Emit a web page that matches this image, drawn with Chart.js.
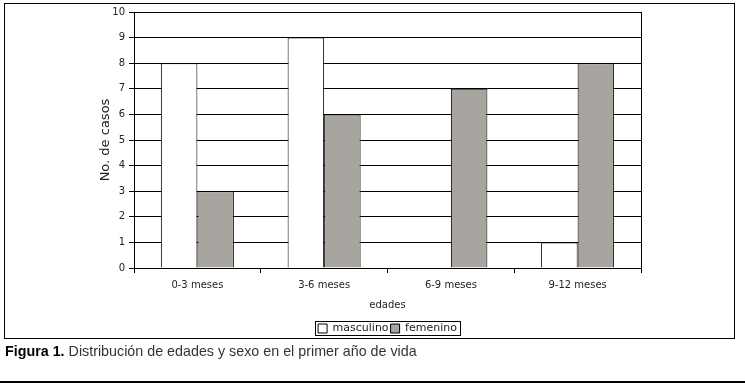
<!DOCTYPE html>
<html>
<head>
<meta charset="utf-8">
<script src="https://cdn.jsdelivr.net/npm/chart.js@4"></script>
<style>
  body { margin: 0; background: #fff; width: 745px; height: 388px; position: relative; overflow: hidden; }
  #marco { position: absolute; left: 4px; top: 3px; width: 731px; height: 336px; border: 1px solid #000; box-sizing: border-box; }
  #marco canvas { display: block; position: absolute; left: 0; top: -2px; }
  #pie { position: absolute; left: 5px; top: 343px; font-family: "Liberation Sans", Arial, sans-serif; font-size: 14.3px; color: #333; white-space: nowrap; }
  #pie b { color: #000; }
  #linea { position: absolute; left: 0; top: 381px; width: 745px; height: 2px; background: #000; }
</style>
</head>
<body>
<div id="marco"><canvas id="grafica" width="729" height="342"></canvas></div>
<div id="pie"><b>Figura 1.</b> Distribución de edades y sexo en el primer año de vida</div>
<div id="linea"></div>

<script>
const edades = ["0-3 meses", "3-6 meses", "6-9 meses", "9-12 meses"];
const masculino = [8, 9, 0, 1];
const femenino = [3, 6, 7, 8];

// marco del area de trazado y de la leyenda
const bordes = {
  id: "bordes",
  afterDraw(chart) {
    const ctx = chart.ctx;
    const a = chart.chartArea;
    ctx.save();
    ctx.strokeStyle = "#000";
    ctx.lineWidth = 1;
    ctx.beginPath();
    ctx.moveTo(Math.round(a.right) + 0.5, a.top);
    ctx.lineTo(Math.round(a.right) + 0.5, a.bottom);
    ctx.stroke();
    const cajas = chart.legend.legendHitBoxes;
    if (cajas && cajas.length) {
      const x0 = Math.min(...cajas.map(c => c.left)) - 3;
      const x1 = Math.max(...cajas.map(c => c.left + c.width)) + 3;
      const y0 = Math.min(...cajas.map(c => c.top)) - 2;
      const y1 = Math.max(...cajas.map(c => c.top + c.height)) + 1;
      ctx.strokeRect(Math.round(x0) + 0.5, Math.round(y0) + 0.5, Math.round(x1 - x0), Math.round(y1 - y0));
    }
    ctx.restore();
  }
};

const fuente = { family: "'DejaVu Sans', Verdana, sans-serif", size: 10 };

new Chart(document.getElementById("grafica"), {
  type: "bar",
  data: {
    labels: edades,
    datasets: [
      { label: "masculino", data: masculino, backgroundColor: "#ffffff", borderColor: "#000", borderWidth: 1 },
      { label: "femenino", data: femenino, backgroundColor: "#a8a5a0", borderColor: "#000", borderWidth: 1 }
    ]
  },
  options: {
    responsive: false,
    animation: false,
    layout: { padding: { left: 0, right: 93, top: 6, bottom: 0 } },
    datasets: { bar: { categoryPercentage: 0.576, barPercentage: 1 } },
    scales: {
      x: {
        grid: { offset: true, drawOnChartArea: false, color: "#000", tickLength: 5 },
        border: { color: "#000" },
        ticks: { color: "#222", font: fuente, padding: 6 },
        title: { display: true, text: "edades", color: "#222", font: fuente, padding: { top: 4, bottom: 10 } },
        afterFit: s => { s.height = 53; }
      },
      y: {
        min: 0, max: 10,
        ticks: { stepSize: 1, color: "#222", font: fuente, padding: 4 },
        grid: { color: "#000", tickLength: 5 },
        border: { color: "#000" },
        title: { display: true, text: "No. de casos", color: "#222", font: { family: fuente.family, size: 13 }, padding: { top: 93, bottom: 0 } },
        afterFit: s => { s.width = 129; }
      }
    },
    plugins: {
      legend: {
        position: "bottom",
        fullSize: false,
        labels: { boxWidth: 9, boxHeight: 9, color: "#222", font: { family: fuente.family, size: 11 }, padding: 2 }
      },
      tooltip: { enabled: false }
    }
  },
  plugins: [bordes]
});
</script>
</body>
</html>
